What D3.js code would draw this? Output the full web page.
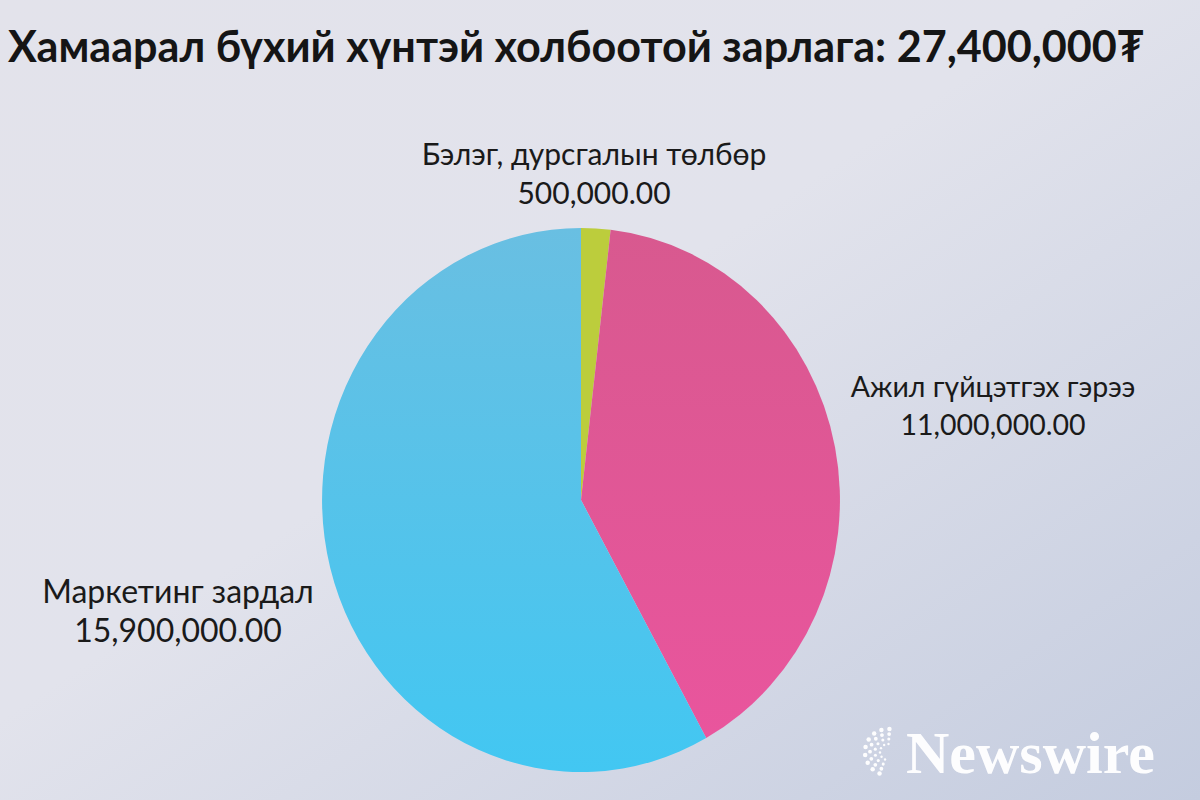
<!DOCTYPE html>
<html><head><meta charset="utf-8">
<script src="https://cdn.jsdelivr.net/npm/d3@7"></script>
<style>html,body{margin:0;padding:0;overflow:hidden;}svg{display:block;}</style>
</head><body>
<svg id="chart" width="1200" height="800"></svg>
<script>
const categories = ["Бэлэг, дурсгалын төлбөр", "Ажил гүйцэтгэх гэрээ", "Маркетинг зардал"];
const values = [500000, 11000000, 15900000];
const valueLabels = ["500,000.00", "11,000,000.00", "15,900,000.00"];
const titleText = "Хамаарал бүхий хүнтэй холбоотой зарлага: 27,400,000₮";

const colors = ["#bccd3c", "#e2589a", "#52c2eb"];
// label layout: [centerX, nameBaseline, valueBaseline, fontSize]
const labelLayout = [[594, 165, 204, 30], [993, 397, 435, 28.5], [178, 603, 642, 32]];

const svg = d3.select("#chart");
const defs = svg.append("defs");
const bg = defs.append("linearGradient").attr("id","bg").attr("x1","0").attr("y1","0").attr("x2","1").attr("y2","1");
bg.append("stop").attr("offset","0").attr("stop-color","#e3e3eb");
bg.append("stop").attr("offset","0.45").attr("stop-color","#e2e3ec");
bg.append("stop").attr("offset","1").attr("stop-color","#c4ccdf");
svg.append("rect").attr("width",1200).attr("height",800).attr("fill","url(#bg)");

const blueGrad = defs.append("linearGradient").attr("id","blueG").attr("x1","0").attr("y1","0").attr("x2","0").attr("y2","1");
blueGrad.append("stop").attr("offset","0").attr("stop-color","#69bfe2");
blueGrad.append("stop").attr("offset","1").attr("stop-color","#42c7f2");
const pinkGrad = defs.append("linearGradient").attr("id","pinkG").attr("x1","0").attr("y1","0").attr("x2","0").attr("y2","1");
pinkGrad.append("stop").attr("offset","0").attr("stop-color","#d8598f");
pinkGrad.append("stop").attr("offset","1").attr("stop-color","#e9559d");
const fills = ["#bccd3c", "url(#pinkG)", "url(#blueG)"];

// title
const title = svg.append("text").attr("x",8).attr("y",62)
  .attr("font-family","Lato, 'Open Sans', sans-serif").attr("font-weight","bold")
  .attr("font-size",44).attr("fill","#151515").text(titleText);
const tw = title.node().getComputedTextLength();
title.attr("transform", `translate(8,0) scale(${1137/tw},1) translate(-8,0)`);

// pie (slightly elliptical as in the photographed reference)
const cx = 581, cy = 500, r = 272;
const pie = d3.pie().sort(null).value(d => d)(values);
const arc = d3.arc().innerRadius(0).outerRadius(r);
const g = svg.append("g").attr("transform", `translate(${cx},${cy}) scale(0.952,1)`);
g.selectAll("path").data(pie).join("path")
  .attr("d", arc).attr("fill", (d,i) => fills[i]);

// labels
categories.forEach((c,i) => {
  const [x,y1,y2,fs] = labelLayout[i];
  svg.append("text").attr("x",x).attr("y",y1).attr("text-anchor","middle")
    .attr("font-family","Lato, sans-serif").attr("font-size",fs).attr("fill","#1a1a1a").text(c);
  svg.append("text").attr("x",x).attr("y",y2).attr("text-anchor","middle")
    .attr("font-family","Lato, sans-serif").attr("font-size",fs).attr("fill","#1a1a1a").text(valueLabels[i]);
});

// watermark
const wm = svg.append("g").attr("opacity",0.97);
wm.append("text").attr("x",906).attr("y",773)
  .attr("font-family","'Liberation Serif', 'DejaVu Serif', serif").attr("font-weight","bold")
  .attr("font-size",60).attr("fill","#ffffff").text("Newswire");
for (let k = 0; k < 4; k++) {
  const n = 6 + k;
  for (let j = 0; j < n; j++) {
    const a = Math.PI*0.62 + j*(Math.PI*0.9/(n-1));
    const rr = 8 + k*5;
    wm.append("circle").attr("cx", 888 + rr*Math.cos(a)).attr("cy", 752 + rr*Math.sin(a))
      .attr("r", 1.2 + k*0.35).attr("fill","#ffffff");
  }
}
</script>
</body></html>
